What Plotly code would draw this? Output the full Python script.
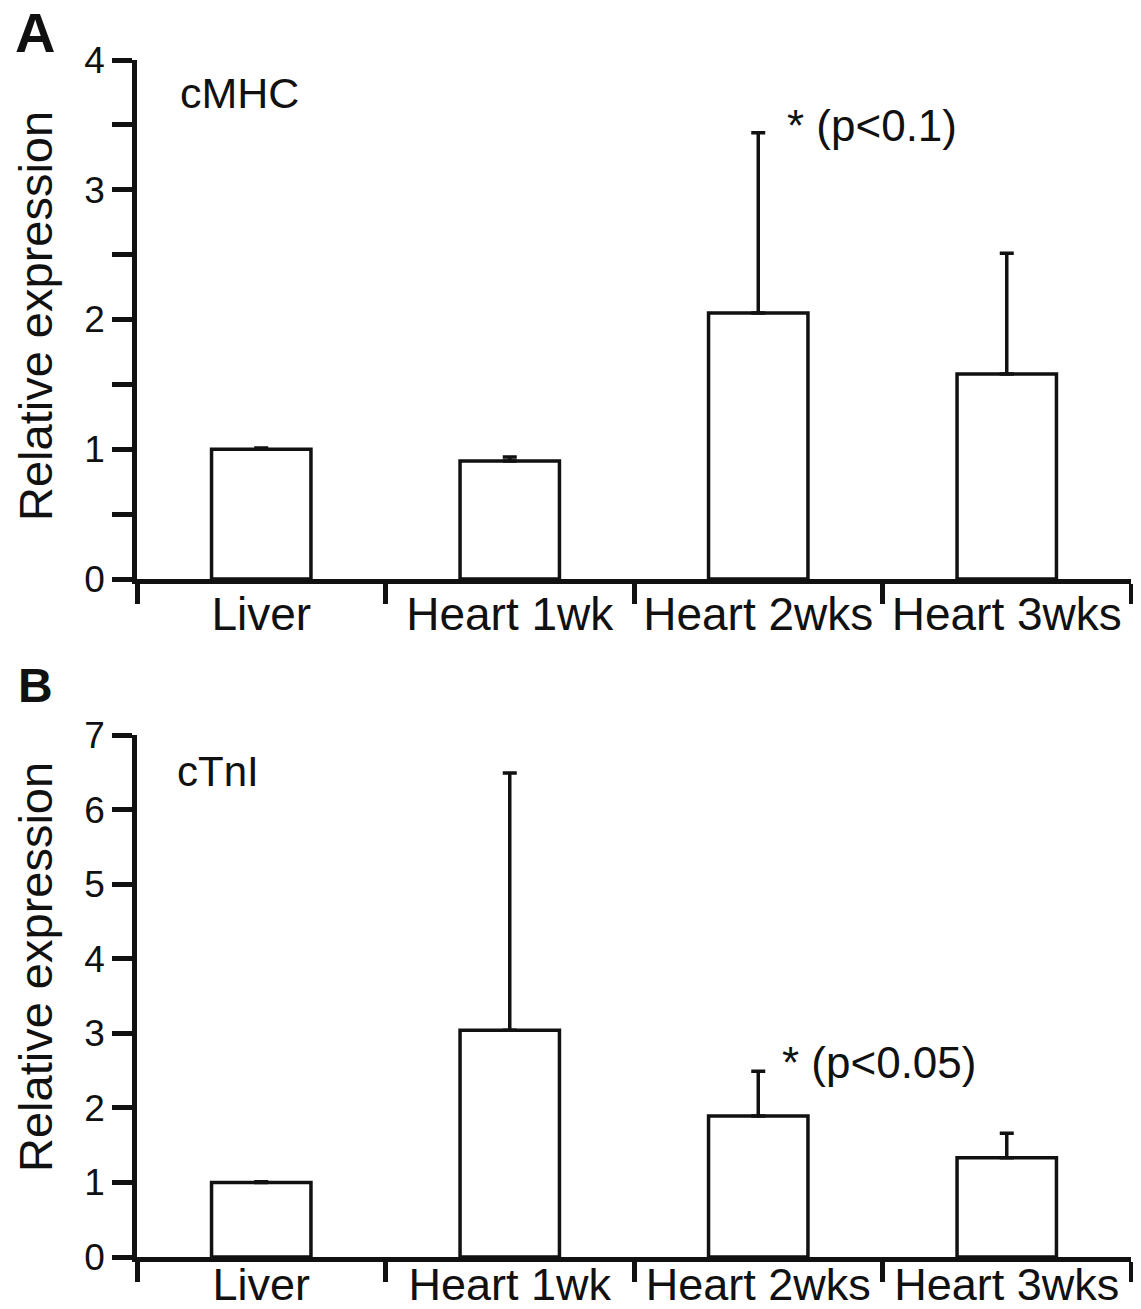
import plotly.graph_objects as go

categories = ["Liver", "Heart 1wk", "Heart 2wks", "Heart 3wks"]

cmhc_values = [1.0, 0.91, 2.05, 1.58]
cmhc_errors = [0.01, 0.03, 1.39, 0.93]

ctni_values = [1.0, 3.04, 1.89, 1.33]
ctni_errors = [0.01, 3.45, 0.60, 0.33]

cmhc_ticks = [0, 1, 2, 3, 4]
ctni_ticks = [0, 1, 2, 3, 4, 5, 6, 7]

# page body has an 8px margin, so the figure sits at (8, 8) in the window
OFF = 8
W, H = 1141 - OFF, 1309 - OFF
FONT = "Liberation Sans, Arial, sans-serif"
INK = "#111111"

def px(x):
    return (x - OFF) / W

def py(y):
    return 1 - (y - OFF) / H

fig = go.Figure()

for vals, errs, xa, ya in [(cmhc_values, cmhc_errors, "x", "y"),
                           (ctni_values, ctni_errors, "x2", "y2")]:
    fig.add_trace(go.Bar(
        x=categories, y=vals, width=0.4,
        marker=dict(color="white", line=dict(color=INK, width=3.5)),
        error_y=dict(type="data", array=errs, arrayminus=[0] * len(errs),
                     symmetric=False, color=INK, thickness=3.5, width=7),
        xaxis=xa, yaxis=ya, showlegend=False,
    ))

xdom = [px(137), px(1131)]
axis_common = dict(showline=True, linecolor=INK, linewidth=4.5, ticks="outside",
                   tickcolor=INK, tickwidth=4.5, ticklen=20, showgrid=False,
                   zeroline=False, automargin=False)

xaxis_common = dict(domain=xdom, type="category", categoryorder="array",
                    categoryarray=categories, range=[-0.5, 3.5], tickson="boundaries",
                    **axis_common)

fig.update_layout(
    template="none",
    width=W, height=H,
    margin=dict(l=0, r=0, t=0, b=0, autoexpand=False),
    paper_bgcolor="white", plot_bgcolor="white",
    font=dict(family=FONT, color=INK),
    xaxis=dict(anchor="y", ticklabelstandoff=-9,
               tickfont=dict(size=46, family=FONT, color=INK), **xaxis_common),
    yaxis=dict(domain=[py(579), py(60)], anchor="x", range=[0, 4],
               tickvals=cmhc_ticks, tickfont=dict(size=37, family=FONT, color=INK),
               minor=dict(dtick=0.5, ticks="outside", ticklen=20, tickwidth=4.5,
                          tickcolor=INK),
               **axis_common),
    xaxis2=dict(anchor="y2", ticklabelstandoff=-16,
                tickfont=dict(size=45, family=FONT, color=INK), **xaxis_common),
    yaxis2=dict(domain=[py(1257), py(735)], anchor="x2", range=[0, 7],
                tickvals=ctni_ticks, tickfont=dict(size=37, family=FONT, color=INK),
                **axis_common),
)

ann = [
    dict(text="<b>A</b>", x=px(35), y=py(32), size=56, xanchor="center"),
    dict(text="<b>B</b>", x=px(35), y=py(685), size=48, xanchor="center"),
    dict(text="Relative expression", x=px(35), y=py(316), size=47, xanchor="center", angle=-90),
    dict(text="Relative expression", x=px(35), y=py(967), size=47, xanchor="center", angle=-90),
    dict(text="cMHC", x=px(178), y=py(93), size=43, xanchor="left"),
    dict(text="cTnI", x=px(175), y=py(771), size=42, xanchor="left"),
    dict(text="* (p<0.1)", x=px(785), y=py(125), size=44, xanchor="left"),
    dict(text="* (p<0.05)", x=px(780), y=py(1062), size=44, xanchor="left"),
]
for a in ann:
    fig.add_annotation(text=a["text"], x=a["x"], y=a["y"], xref="paper", yref="paper",
                       xanchor=a["xanchor"], yanchor="middle", showarrow=False,
                       textangle=a.get("angle", 0),
                       font=dict(size=a["size"], family=FONT, color=INK))

fig.write_html("out.html")
